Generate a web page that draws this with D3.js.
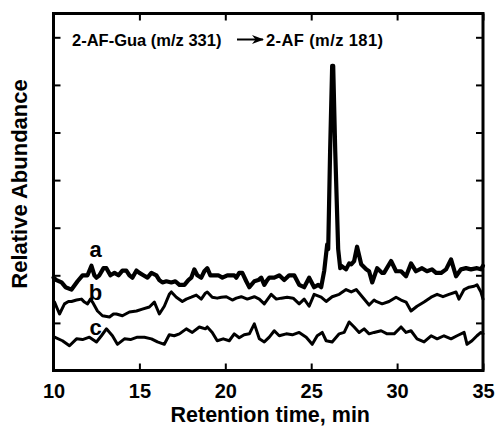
<!DOCTYPE html>
<html>
<head>
<meta charset="utf-8">
<script src="https://cdn.jsdelivr.net/npm/d3@7"></script>
<style>
  html, body { margin: 0; padding: 0; background: #fff; }
  text { font-family: "Liberation Sans", Arial, sans-serif; fill: #000; }
</style>
</head>
<body>
<svg id="chart" width="496" height="427"></svg>
<script>
// retention time (min), relative abundance (arbitrary, 0-150)
const traceA = [
  [10.0, 39], [10.17, 38], [10.47, 37], [10.7, 35], [11.05, 34], [11.4, 37.5], [11.69, 40],
  [11.98, 40], [12.21, 44], [12.38, 40], [12.5, 39], [12.67, 40], [12.91, 43], [13.08, 43],
  [13.31, 40], [13.55, 41], [13.78, 40], [14.01, 42], [14.24, 42], [14.42, 40], [14.59, 39],
  [14.83, 42], [15.0, 41], [15.23, 40], [15.47, 39], [15.7, 41], [15.99, 40], [16.16, 38],
  [16.34, 37], [16.57, 37.5], [16.86, 37], [17.09, 37.5], [17.33, 36], [17.62, 36], [17.85, 38],
  [18.02, 39], [18.2, 42.5], [18.37, 40], [18.6, 39], [18.78, 41.7], [18.95, 43], [19.13, 40],
  [19.36, 40], [19.59, 40], [19.83, 39], [20.12, 40], [20.35, 40], [20.52, 40], [20.64, 39],
  [20.81, 41], [20.99, 41], [21.22, 37.5], [21.4, 35], [21.69, 37.5], [21.92, 38], [22.09, 39],
  [22.27, 36], [22.44, 38], [22.56, 39], [22.85, 39], [23.14, 40], [23.43, 38], [23.72, 40],
  [24.01, 40], [24.3, 36], [24.59, 35], [24.88, 39], [25.17, 35], [25.41, 36], [25.58, 35],
  [25.76, 42], [25.93, 53], [25.99, 51], [26.1, 92], [26.22, 128], [26.28, 128], [26.4, 92],
  [26.57, 51], [26.69, 43], [26.74, 44], [27.03, 42.5], [27.21, 45], [27.33, 44.6], [27.5, 46],
  [27.67, 52], [27.91, 44.6], [28.2, 42.5], [28.37, 41.7], [28.55, 37], [28.84, 43], [29.13, 41],
  [29.24, 41], [29.65, 46], [29.94, 41.7], [30.23, 41.7], [30.52, 39.6], [30.81, 45], [31.1, 41.7],
  [31.45, 43], [31.74, 41.7], [32.03, 42.5], [32.27, 41], [32.56, 41], [32.85, 42.5], [33.14, 46.7],
  [33.43, 39.6], [33.72, 42.5], [34.01, 43], [34.3, 42.5], [34.65, 43], [34.88, 42.5], [35.0, 44]
];

const traceB = [
  [10.06, 28.75], [10.35, 23.75], [10.64, 28], [10.87, 29], [11.05, 29], [11.34, 29.6], [11.63, 30],
  [11.8, 28.75], [11.98, 28], [12.15, 30], [12.27, 28.75], [12.56, 25], [12.85, 23], [13.26, 22.5],
  [13.49, 23.75], [13.66, 23.75], [14.01, 23], [14.42, 24.6], [14.83, 25], [15.17, 25.8],
  [15.58, 26.7], [15.87, 28.75], [16.16, 23.75], [16.45, 27], [16.74, 32], [16.86, 33], [17.15, 30.8],
  [17.5, 29], [17.73, 30], [18.02, 30.8], [18.31, 31.7], [18.6, 30], [18.84, 32.5], [18.95, 33],
  [19.24, 30.8], [19.53, 30.4], [19.77, 30.8], [20.06, 31], [20.41, 29.6], [20.64, 30.4], [20.93, 31],
  [21.28, 30], [21.69, 31], [21.98, 30], [22.27, 28], [22.67, 32], [22.97, 30], [23.26, 30.4],
  [23.6, 30.8], [23.95, 30.4], [24.3, 28], [24.59, 30], [24.88, 27], [25.17, 32], [25.58, 30.8],
  [25.87, 29], [26.22, 31], [26.63, 32], [27.03, 34], [27.33, 33], [27.62, 34], [27.97, 31],
  [28.37, 27.5], [28.66, 29.6], [28.78, 29], [29.13, 28], [29.53, 29], [29.94, 30.8], [30.23, 29.6],
  [30.52, 28.75], [30.81, 25], [31.16, 27], [31.57, 28.75], [31.98, 30.8], [32.33, 32], [32.67, 31],
  [33.02, 32], [33.43, 33], [33.6, 30], [33.9, 34], [34.19, 35], [34.48, 35.4], [34.65, 36],
  [34.88, 33], [35.0, 30]
];

const traceC = [
  [10.06, 14], [10.52, 12.5], [10.93, 10.4], [11.34, 13.3], [11.69, 13], [12.09, 14], [12.5, 12],
  [12.79, 14.6], [13.08, 17.5], [13.43, 14.6], [13.72, 11], [14.13, 13.3], [14.48, 13], [14.88, 14],
  [15.29, 14], [15.7, 13.3], [16.05, 12], [16.45, 11], [16.74, 15], [17.03, 14.6], [17.33, 15.4],
  [17.73, 17.5], [18.08, 16], [18.49, 18.3], [18.84, 17.5], [18.95, 18.3], [19.24, 16], [19.53, 12.5],
  [19.88, 13.3], [20.23, 12.5], [20.52, 15.4], [20.81, 13.75], [21.1, 15], [21.4, 15.4], [21.69, 19.6],
  [21.98, 13.3], [22.27, 12], [22.56, 14], [22.85, 16.7], [23.14, 14.6], [23.55, 15.4], [23.9, 15],
  [24.3, 16], [24.71, 14], [25.06, 11], [25.35, 14.6], [25.64, 16], [25.87, 12.5], [26.22, 12],
  [26.63, 15.4], [26.92, 16], [27.21, 20.4], [27.5, 18.3], [27.79, 16], [28.08, 17.5], [28.37, 15.4],
  [28.66, 16], [29.07, 16.7], [29.42, 15.4], [29.83, 15.4], [30.23, 18.3], [30.52, 16], [30.81, 16.7],
  [31.16, 13.3], [31.57, 12], [31.98, 14.6], [32.33, 13.3], [32.73, 14.6], [33.14, 13.3], [33.49, 14.6],
  [33.9, 16], [34.07, 11], [34.36, 12.5], [34.65, 14.6], [34.88, 16], [35.0, 15.4]
];

const xTicks = [10, 15, 20, 25, 30, 35];
const yTicks = [20, 40, 60, 80, 100, 120, 140];
const traceLabels = [
  { name: 'a', t: 12.45, v: 47.5 },
  { name: 'b', t: 12.45, v: 29.5 },
  { name: 'c', t: 12.45, v: 15 }
];

const svg = d3.select('#chart');
const mLeft = 53.5, mRight = 483, mTop = 13.5, mBottom = 370.5;

const x = d3.scaleLinear().domain([10, 35]).range([mLeft, mRight]);
const y = d3.scaleLinear().domain([0, 150]).range([mBottom, mTop]);

// axes: ticks point inward, no labels except the bottom one
const axisStyle = g => {
  g.select('.domain').remove();
  g.selectAll('.tick line').attr('stroke', '#000').attr('stroke-width', 2);
};

svg.append('g')
  .attr('transform', `translate(0,${mBottom})`)
  .call(d3.axisBottom(x).tickValues(xTicks).tickSizeInner(-7).tickSizeOuter(0).tickPadding(13))
  .call(axisStyle)
  .call(g => g.selectAll('.tick text')
    .attr('font-size', 20).attr('font-weight', 'bold')
    .attr('font-family', '"Liberation Sans", Arial, sans-serif')
    .attr('fill', '#000'));

svg.append('g')
  .attr('transform', `translate(0,${mTop})`)
  .call(d3.axisTop(x).tickValues(xTicks).tickSizeInner(-7).tickSizeOuter(0).tickFormat(''))
  .call(axisStyle);

svg.append('g')
  .attr('transform', `translate(${mLeft},0)`)
  .call(d3.axisLeft(y).tickValues(yTicks).tickSizeInner(-7).tickSizeOuter(0).tickFormat(''))
  .call(axisStyle);

svg.append('g')
  .attr('transform', `translate(${mRight},0)`)
  .call(d3.axisRight(y).tickValues(yTicks).tickSizeInner(-7).tickSizeOuter(0).tickFormat(''))
  .call(axisStyle);

// frame
svg.append('rect')
  .attr('x', mLeft).attr('y', mTop)
  .attr('width', mRight - mLeft).attr('height', mBottom - mTop)
  .attr('fill', 'none').attr('stroke', '#000').attr('stroke-width', 3);

const line = d3.line().x(d => x(d[0])).y(d => y(d[1]));

const traces = [
  { data: traceA, width: 4.2 },
  { data: traceB, width: 3 },
  { data: traceC, width: 3 }
];

svg.append('g').selectAll('path')
  .data(traces)
  .join('path')
  .attr('d', d => line(d.data))
  .attr('fill', 'none')
  .attr('stroke', '#000')
  .attr('stroke-width', d => d.width)
  .attr('stroke-linejoin', 'round')
  .attr('stroke-linecap', 'round');

svg.append('g').selectAll('text')
  .data(traceLabels)
  .join('text')
  .attr('x', d => x(d.t))
  .attr('y', d => y(d.v))
  .attr('text-anchor', 'middle')
  .attr('font-size', 22)
  .attr('font-weight', 'bold')
  .text(d => d.name);

// transition label with arrow
svg.append('defs').append('marker')
  .attr('id', 'head')
  .attr('viewBox', '0 0 12 9')
  .attr('refX', 11).attr('refY', 4.5)
  .attr('markerWidth', 12).attr('markerHeight', 9)
  .attr('markerUnits', 'userSpaceOnUse')
  .attr('orient', 'auto')
  .append('path')
  .attr('d', 'M0,0 L12,4.5 L0,9 L3.5,4.5 Z')
  .attr('fill', '#000');

svg.append('text')
  .attr('x', 72).attr('y', 45.5)
  .attr('font-size', 16.5).attr('font-weight', 'bold')
  .text('2-AF-Gua (m/z 331)');

svg.append('line')
  .attr('x1', 237).attr('y1', 39.5)
  .attr('x2', 263).attr('y2', 39.5)
  .attr('stroke', '#000').attr('stroke-width', 2)
  .attr('marker-end', 'url(#head)');

svg.append('text')
  .attr('x', 266).attr('y', 45.5)
  .attr('font-size', 16.5).attr('font-weight', 'bold')
  .attr('textLength', 117).attr('lengthAdjust', 'spacing')
  .text('2-AF (m/z 181)');

// axis titles
svg.append('text')
  .attr('x', (mLeft + mRight) / 2 + 2).attr('y', 422)
  .attr('text-anchor', 'middle')
  .attr('font-size', 21.5).attr('font-weight', 'bold')
  .text('Retention time, min');

svg.append('text')
  .attr('transform', 'translate(27,184) rotate(-90)')
  .attr('text-anchor', 'middle')
  .attr('font-size', 22).attr('font-weight', 'bold')
  .text('Relative Abundance');
</script>
</body>
</html>
